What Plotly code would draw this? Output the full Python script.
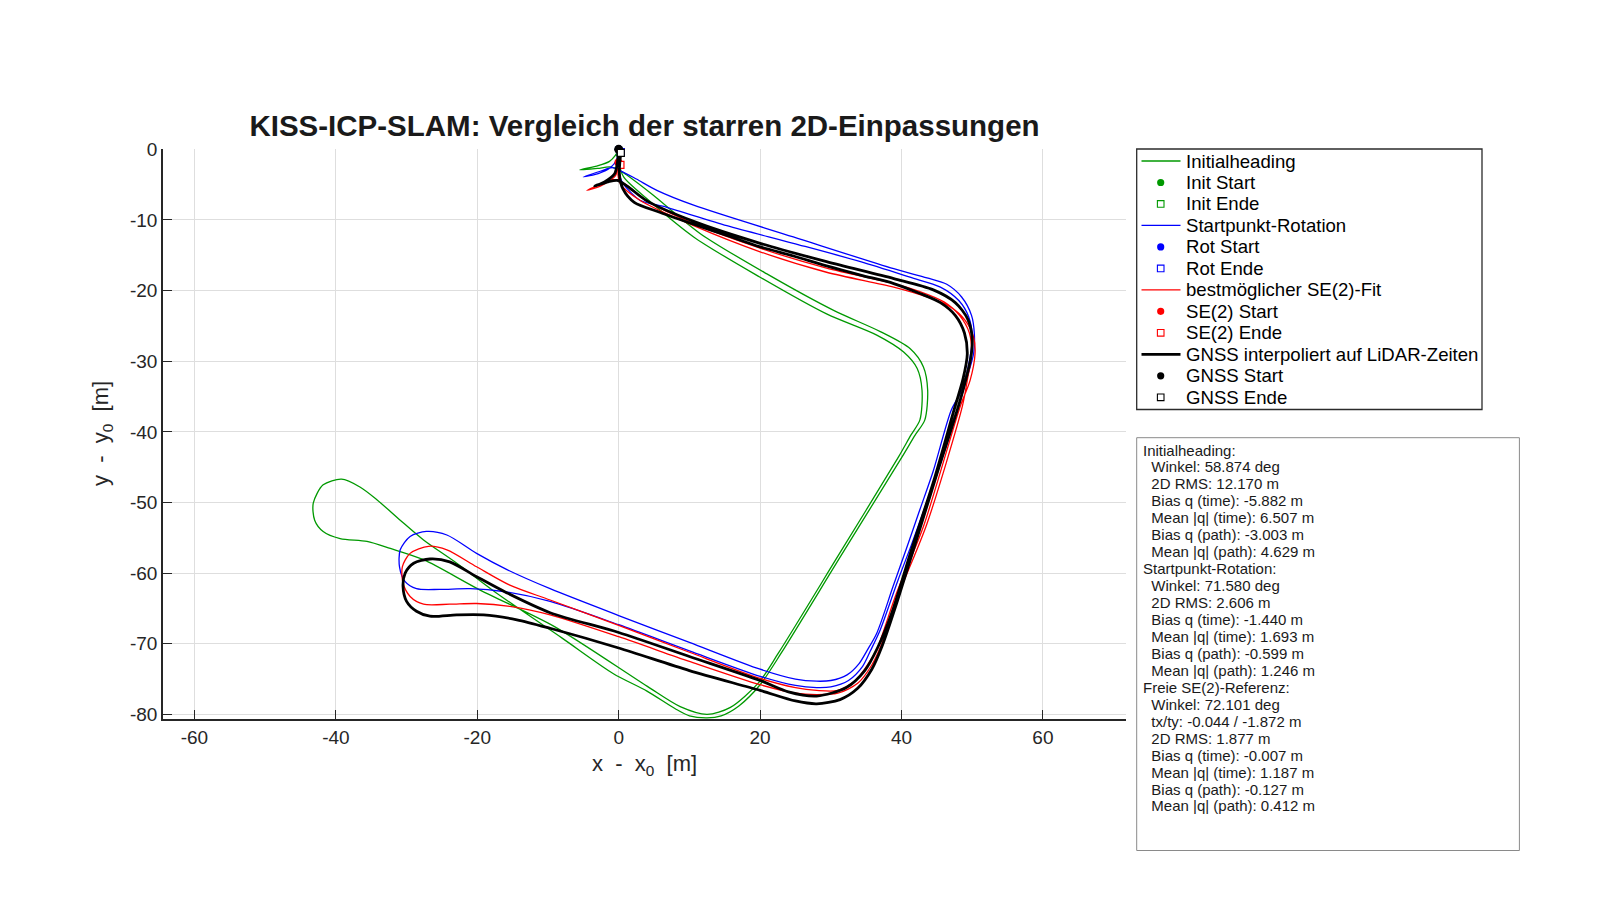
import plotly.graph_objects as go

# ---------------- data ----------------
X_TICKS = [-60, -40, -20, 0, 20, 40, 60]
X_TICK_LABELS = ["-60", "-40", "-20", "0", "20", "40", "60"]
Y_TICKS = [0, -10, -20, -30, -40, -50, -60, -70, -80]
Y_TICK_LABELS = ["0", "-10", "-20", "-30", "-40", "-50", "-60", "-70", "-80"]

# Initialheading (green)
INIT_X = [0.0, -0.5, -1.3, -2.9, -5.5, -3.0, -1.2, 0.2,
          1.1, 4.9, 11.5, 20.9, 30.4, 37.0, 41.2, 43.1, 43.7, 43.3, 41.9, 40.1, 31.4, 23.0, 20.0, 17.0,
          14.5, 12.5, 10.0, 8.0, 4.0, -0.8, -8.0, -17.3, -22.9, -27.6, -30.9, -34.2, -36.6, -39.2,
          -41.8, -43.2, -43.0, -41.8, -39.4, -35.6, -32.3, -27.6, -19.6, -9.2, 4.0, 8.7, 12.5, 15.8,
          19.8, 22.6, 31.0, 39.6, 41.3, 42.6, 42.9, 42.2, 40.3, 36.5, 29.4, 20.0, 10.6, 4.0, 0.7, 0.1, 0.2]
INIT_Y = [0.0, -0.9, -1.7, -2.3, -2.9, -2.7, -2.5, -3.0,
          -3.6, -6.5, -11.9, -17.6, -22.8, -25.8, -28.2, -30.8, -34.1, -38.3, -40.5, -43.5, -57.6, -71.3, -75.8, -78.8,
          -80.2, -80.5, -80.2, -79.2, -76.7, -74.2, -69.2, -62.8, -58.6, -55.3, -52.5, -49.6, -47.8, -46.7,
          -47.5, -50.1, -52.5, -54.1, -55.1, -55.5, -56.5, -58.1, -62.4, -67.5, -76.0, -78.9, -80.0, -79.0,
          -75.5, -71.3, -57.6, -43.5, -40.5, -38.3, -34.1, -31.0, -28.7, -26.3, -23.3, -18.1, -12.4, -7.0, -3.9, -2.0, -0.4]

# Startpunkt-Rotation (blue)
ROT_X = [0.0, -0.3, -1.2, -2.8, -5.0, -2.6, -0.9, 0.2,
         2.5, 5.4, 10.6, 24.7, 38.9, 43.6, 46.4, 48.5, 49.9, 50.3, 50.2, 49.0, 47.6,
         45.0, 43.2, 41.4, 39.5, 37.0, 35.6, 34.5, 32.5, 30.0, 28.0, 25.0, 20.0, 10.0, 0.0, -9.7,
         -16.3, -21.0, -25.3, -28.6, -30.2, -31.0, -30.9, -29.5, -27.2, -24.3, -20.1, -15.8, -9.7,
         0.0, 10.0, 20.0, 25.0, 28.0, 30.0, 32.3, 34.0, 35.1, 36.5, 38.8, 40.7, 42.6, 44.5, 47.0,
         48.5, 49.7, 50.0, 49.5, 48.1, 45.5, 41.2, 34.2, 24.7, 15.3, 6.8, 3.0, 0.6, 0.2, 0.1, 0.3]
ROT_Y = [0.0, -1.5, -2.6, -3.4, -3.9, -3.1, -2.6, -3.0,
         -4.2, -5.8, -7.9, -12.4, -16.9, -18.2, -19.1, -20.9, -23.5, -26.1, -28.9, -33.2, -38.0,
         -46.0, -51.0, -56.0, -61.0, -68.0, -71.0, -73.2, -75.2, -76.1, -76.2, -75.9, -74.6, -71.0, -67.3, -64.0,
         -62.6, -62.2, -62.3, -62.2, -61.2, -59.1, -56.7, -54.8, -54.1, -54.6, -57.2, -59.5, -62.2,
         -66.0, -69.8, -73.6, -75.0, -75.3, -75.2, -74.4, -72.8, -71.0, -68.5, -61.9, -56.5, -51.0, -45.5, -37.0,
         -34.1, -29.4, -26.5, -23.7, -21.4, -19.5, -18.1, -15.9, -13.3, -10.8, -8.2, -7.2, -4.8, -3.9, -1.5, -0.4]

# bestmoeglicher SE(2)-Fit (red)
SE2_X = [-0.04, -0.2, -0.5, -2.6, -4.5, -2.2, -0.6, 1.0,
         4.0, 10.6, 20.0, 29.4, 38.9, 42.5, 46.0, 48.2, 49.6, 49.9, 49.3, 48.6, 43.6, 39.8, 37.0,
         35.8, 33.8, 31.0, 28.0, 25.0, 20.0, 10.0, 0.0, -9.7, -15.4, -20.1, -23.9, -27.6, -29.5,
         -30.5, -30.6, -29.5, -26.9, -24.3, -20.1, -15.4, -9.7, 0.0, 10.0, 20.0, 25.0, 28.0, 31.0,
         33.6, 35.5, 36.5, 39.3, 43.1, 48.3, 49.7, 50.4, 50.2, 49.0, 46.9, 43.6, 38.9, 29.4, 20.0,
         10.6, 3.0, 0.3, -0.1, 0.25]
SE2_Y = [-1.87, -3.0, -3.8, -5.2, -5.8, -4.8, -4.3, -5.0,
         -7.3, -10.5, -14.0, -16.8, -19.0, -20.1, -21.6, -23.5, -26.0, -28.9, -32.7, -36.4, -53.0, -62.5, -70.5,
         -73.0, -75.6, -77.0, -77.2, -77.0, -75.8, -72.5, -69.0, -65.9, -64.7, -64.3, -64.4, -64.4, -63.3,
         -61.4, -59.1, -57.2, -56.2, -56.7, -59.1, -61.7, -63.8, -67.4, -71.2, -74.9, -76.2, -76.6, -76.6,
         -75.1, -72.5, -70.8, -62.8, -53.4, -36.4, -32.7, -28.9, -26.6, -24.2, -22.3, -20.9, -19.5, -17.4, -14.5,
         -10.8, -7.2, -5.0, -3.6, -2.2]

# GNSS interpoliert auf LiDAR-Zeiten (black)
GNSS_X = [0.0, -0.2, -0.6, -2.0, -3.4, -1.5, -0.2, 1.2,
          4.0, 10.6, 20.0, 29.4, 38.9, 44.5, 47.6, 49.4, 50.0, 49.8, 48.3, 45.3, 42.2, 39.4, 37.3,
          35.8, 33.8, 31.3, 28.0, 25.0, 20.0, 10.0, 0.0, -9.7, -14.4, -19.1, -22.9, -26.7, -28.6,
          -30.0, -30.5, -30.2, -29.0, -26.7, -23.9, -20.1, -15.8, -9.7, 0.0, 10.0, 20.0, 24.0, 28.0,
          32.2, 34.8, 36.6, 38.6, 41.4, 44.6, 47.4, 48.7, 49.3, 48.9, 47.6, 45.5, 42.6, 38.9, 34.2,
          29.4, 24.7, 20.0, 15.3, 10.6, 5.8, 2.2, 0.6, 0.1, 0.3]
GNSS_Y = [0.0, -2.0, -3.5, -4.6, -5.2, -4.6, -4.4, -5.2,
          -7.3, -10.2, -13.3, -15.9, -18.3, -19.9, -21.7, -24.1, -26.8, -29.5, -35.5, -45.0, -55.0, -64.0, -70.2,
          -73.6, -76.3, -77.9, -78.5, -78.1, -76.6, -73.8, -70.6, -67.8, -66.6, -65.9, -65.9, -66.1, -65.4,
          -64.0, -61.9, -60.0, -58.6, -58.0, -58.4, -60.5, -62.8, -65.6, -68.4, -71.8, -75.2, -76.8, -77.4,
          -76.2, -73.8, -70.6, -65.7, -56.7, -46.8, -37.0, -32.5, -29.0, -26.0, -23.5, -21.7, -20.4, -19.0, -17.8,
          -16.5, -15.1, -13.8, -12.2, -10.6, -8.9, -7.5, -5.6, -3.5, -0.5]

# start / end markers
INIT_START = (0.0, 0.0)
INIT_END = (0.2, -0.4)
ROT_START = (0.0, 0.0)
ROT_END = (0.3, -0.4)
SE2_START = (-0.04, -1.87)
SE2_END = (0.25, -2.2)
GNSS_START = (0.0, 0.0)
GNSS_END = (0.3, -0.5)

TITLE = "KISS-ICP-SLAM: Vergleich der starren 2D-Einpassungen"

LEGEND_ITEMS = [
    ("Initialheading", "line", "rgb(0,153,0)"),
    ("Init Start", "circle", "rgb(0,153,0)"),
    ("Init Ende", "square", "rgb(0,153,0)"),
    ("Startpunkt-Rotation", "line", "rgb(0,0,255)"),
    ("Rot Start", "circle", "rgb(0,0,255)"),
    ("Rot Ende", "square", "rgb(0,0,255)"),
    ("bestmöglicher SE(2)-Fit", "line", "rgb(255,0,0)"),
    ("SE(2) Start", "circle", "rgb(255,0,0)"),
    ("SE(2) Ende", "square", "rgb(255,0,0)"),
    ("GNSS interpoliert auf LiDAR-Zeiten", "thick", "rgb(0,0,0)"),
    ("GNSS Start", "circle", "rgb(0,0,0)"),
    ("GNSS Ende", "square", "rgb(0,0,0)"),
]

STATS_LINES = [
    "Initialheading:",
    "  Winkel: 58.874 deg",
    "  2D RMS: 12.170 m",
    "  Bias q (time): -5.882 m",
    "  Mean |q| (time): 6.507 m",
    "  Bias q (path): -3.003 m",
    "  Mean |q| (path): 4.629 m",
    "Startpunkt-Rotation:",
    "  Winkel: 71.580 deg",
    "  2D RMS: 2.606 m",
    "  Bias q (time): -1.440 m",
    "  Mean |q| (time): 1.693 m",
    "  Bias q (path): -0.599 m",
    "  Mean |q| (path): 1.246 m",
    "Freie SE(2)-Referenz:",
    "  Winkel: 72.101 deg",
    "  tx/ty: -0.044 / -1.872 m",
    "  2D RMS: 1.877 m",
    "  Bias q (time): -0.007 m",
    "  Mean |q| (time): 1.187 m",
    "  Bias q (path): -0.127 m",
    "  Mean |q| (path): 0.412 m",
]

# ---------------- layout constants (pixels) ----------------
W, H = 1600, 900
FONT = "Liberation Sans, Arial, Helvetica, sans-serif"
AX_L, AX_R, AX_T, AX_B = 163.0, 1126.0, 149.0, 719.0
X_RANGE = [-64.45, 71.75]
Y_RANGE = [-80.65, 0.05]

GREEN, BLUE, RED, BLACK = "rgb(0,153,0)", "rgb(0,0,255)", "rgb(255,0,0)", "rgb(0,0,0)"


def px(xp):
    return xp / W


def py(yp):
    return 1.0 - yp / H


fig = go.Figure()


def add_path(xs, ys, color, width, name):
    fig.add_trace(go.Scatter(x=xs, y=ys, mode="lines", name=name,
                             line=dict(color=color, width=width, shape="spline", smoothing=0.8),
                             showlegend=False, hoverinfo="skip"))


def add_pt(p, color, symbol, name, size):
    if symbol == "circle":
        mk = dict(symbol="circle", size=size, color=color, line=dict(width=0))
    else:
        mk = dict(symbol="square", size=size - 1, color="white", line=dict(color=color, width=1.2))
    fig.add_trace(go.Scatter(x=[p[0]], y=[p[1]], mode="markers", name=name, marker=mk,
                             showlegend=False, cliponaxis=False, hoverinfo="skip"))


add_path(INIT_X, INIT_Y, GREEN, 1.3, "Initialheading")
add_pt(INIT_START, GREEN, "circle", "Init Start", 8)
add_pt(INIT_END, GREEN, "square", "Init Ende", 8)
add_path(ROT_X, ROT_Y, BLUE, 1.3, "Startpunkt-Rotation")
add_pt(ROT_START, BLUE, "circle", "Rot Start", 8)
add_pt(ROT_END, BLUE, "square", "Rot Ende", 8)
add_path(SE2_X, SE2_Y, RED, 1.3, "bestmöglicher SE(2)-Fit")
add_pt(SE2_START, RED, "circle", "SE(2) Start", 8)
add_pt(SE2_END, RED, "square", "SE(2) Ende", 8)
add_path(GNSS_X, GNSS_Y, BLACK, 2.8, "GNSS interpoliert auf LiDAR-Zeiten")
add_pt(GNSS_START, BLACK, "circle", "GNSS Start", 9)
add_pt(GNSS_END, BLACK, "square", "GNSS Ende", 8)

shapes = []
annotations = []

# ---- legend (drawn as a boxed key) ----
LG_L, LG_R, LG_T, LG_B = 1136.7, 1482.0, 149.0, 409.5
LG_ROW0, LG_PITCH = 161.0, 21.48
shapes.append(dict(type="rect", xref="paper", yref="paper", x0=px(LG_L), x1=px(LG_R),
                   y0=py(LG_B), y1=py(LG_T), line=dict(color="#2b2b2b", width=1.3),
                   fillcolor="white", layer="above"))
for i, (label, kind, color) in enumerate(LEGEND_ITEMS):
    yc = LG_ROW0 + LG_PITCH * i
    if kind in ("line", "thick"):
        shapes.append(dict(type="line", xref="paper", yref="paper", x0=px(1141.5), x1=px(1180.5),
                           y0=py(yc), y1=py(yc), layer="above",
                           line=dict(color=color, width=2.8 if kind == "thick" else 1.3)))
    elif kind == "circle":
        r = 3.6
        shapes.append(dict(type="circle", xref="paper", yref="paper", x0=px(1160.7 - r), x1=px(1160.7 + r),
                           y0=py(yc + r), y1=py(yc - r), fillcolor=color, line=dict(width=0), layer="above"))
    else:
        r = 3.3
        shapes.append(dict(type="rect", xref="paper", yref="paper", x0=px(1160.7 - r), x1=px(1160.7 + r),
                           y0=py(yc + r), y1=py(yc - r), fillcolor="white",
                           line=dict(color=color, width=1.1), layer="above"))
    annotations.append(dict(text=label, xref="paper", yref="paper", x=px(1183.5), y=py(yc),
                            xanchor="left", yanchor="middle", showarrow=False,
                            font=dict(family=FONT, size=18.6, color="#000000")))

# ---- statistics box ----
ST_L, ST_R, ST_T, ST_B = 1136.7, 1519.4, 437.7, 850.5
shapes.append(dict(type="rect", xref="paper", yref="paper", x0=px(ST_L), x1=px(ST_R),
                   y0=py(ST_B), y1=py(ST_T), line=dict(color="#8a8a8a", width=1), fillcolor="white",
                   layer="below"))
for i, line in enumerate(STATS_LINES):
    yc = 450.0 + 16.95 * i
    txt = line.replace("  ", "\u00a0\u00a0")
    annotations.append(dict(text=txt, xref="paper", yref="paper", x=px(1141.0), y=py(yc),
                            xanchor="left", yanchor="middle", showarrow=False,
                            font=dict(family=FONT, size=15, color="#1a1a1a")))

# ---- axis titles ----
annotations.append(dict(text="x\u00a0\u00a0-\u00a0\u00a0x<sub>0</sub>\u00a0\u00a0[m]", xref="paper", yref="paper",
                        x=px((AX_L + AX_R) / 2), y=py(765), xanchor="center", yanchor="middle",
                        showarrow=False, font=dict(family=FONT, size=22, color="#262626")))
annotations.append(dict(text="y\u00a0\u00a0-\u00a0\u00a0y<sub>0</sub>\u00a0\u00a0[m]", xref="paper", yref="paper",
                        x=px(102), y=py((AX_T + AX_B) / 2), xanchor="center", yanchor="middle",
                        textangle=-90, showarrow=False, font=dict(family=FONT, size=22, color="#262626")))

axis_common = dict(showline=True, linecolor="#262626", linewidth=1.5, mirror=False,
                   ticks="inside", ticklen=9, tickwidth=1.3, tickcolor="#262626",
                   showgrid=True, gridcolor="#dedede", gridwidth=1, zeroline=False, automargin=False,
                   tickfont=dict(family=FONT, size=19, color="#262626"), fixedrange=True)

fig.update_layout(
    width=W, height=H, margin=dict(l=0, r=0, t=0, b=0, pad=0, autoexpand=False),
    paper_bgcolor="white", plot_bgcolor="white", showlegend=False,
    title=dict(text="<b>" + TITLE + "</b>", x=px((AX_L + AX_R) / 2), xanchor="center",
               y=py(125.5), yanchor="middle", font=dict(family=FONT, size=29.5, color="#1a1a1a")),
    xaxis=dict(domain=[px(AX_L), px(AX_R)], range=X_RANGE, tickvals=X_TICKS, ticktext=X_TICK_LABELS,
               **axis_common),
    yaxis=dict(domain=[py(AX_B), py(AX_T)], range=Y_RANGE, tickvals=Y_TICKS, ticktext=Y_TICK_LABELS,
               **axis_common),
    shapes=shapes, annotations=annotations,
)

fig.write_html("out.html")
